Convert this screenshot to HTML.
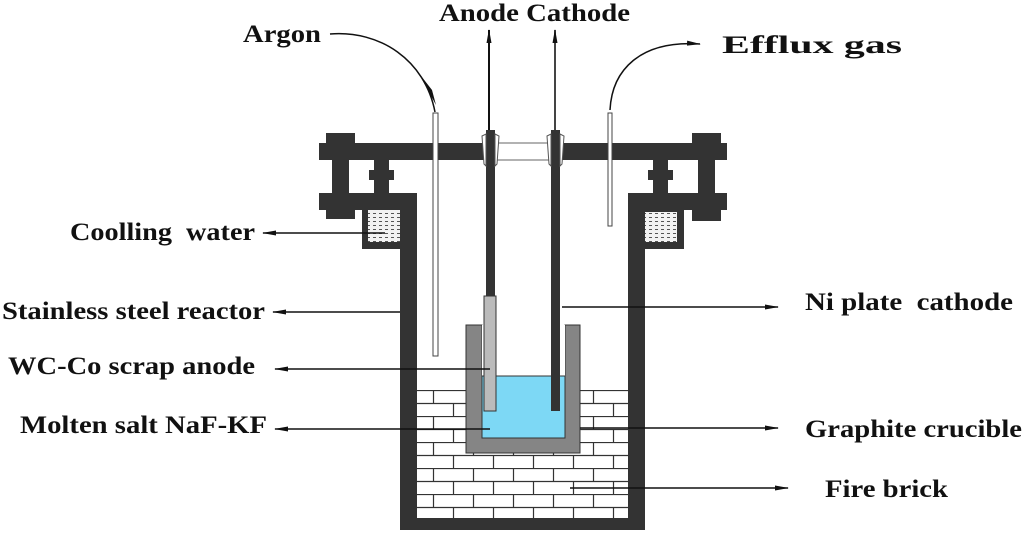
<!DOCTYPE html>
<html><head><meta charset="utf-8"><style>
html,body{margin:0;padding:0;background:#fff;}
svg{display:block;}
text{font-family:"Liberation Serif",serif;font-weight:bold;font-size:25px;fill:#111;}
</style></head><body>
<svg width="1024" height="533" viewBox="0 0 1024 533" xmlns="http://www.w3.org/2000/svg">
<defs>
<pattern id="brick" x="417" y="390" width="80" height="26" patternUnits="userSpaceOnUse">
<rect width="80" height="26" fill="#fff"/>
<path d="M0 0.5H80M0 13.5H80M16.5 0V13M56.5 0V13M36.5 13V26M76.5 13V26" stroke="#333" stroke-width="1.2"/>
</pattern>
<pattern id="dots" width="6" height="4" patternUnits="userSpaceOnUse">
<rect width="6" height="4" fill="#f2f2f2"/><rect x="1" y="1" width="3" height="1" fill="#555"/>
</pattern>
<marker id="ah" markerWidth="14" markerHeight="8" refX="13" refY="4" orient="auto" markerUnits="userSpaceOnUse">
<path d="M0 1.5L14 4L0 6.5Z" fill="#111"/></marker>
</defs>
<g fill="#333">
<rect x="319" y="143" width="408" height="17"/>
<rect x="326" y="133" width="29" height="12"/>
<rect x="332" y="158" width="17" height="37"/>
<rect x="692" y="133" width="29" height="12"/>
<rect x="698" y="158" width="17" height="37"/>
<rect x="374" y="158" width="15" height="37"/><rect x="369" y="170" width="25" height="10"/>
<rect x="653" y="158" width="15" height="37"/><rect x="648" y="170" width="25" height="10"/>
<rect x="319" y="193" width="98" height="17"/>
<rect x="326" y="208" width="29" height="11"/>
<rect x="628" y="193" width="99" height="17"/>
<rect x="692" y="208" width="29" height="13"/>
<rect x="362" y="208" width="40" height="41"/>
<rect x="643" y="208" width="41" height="41"/>
<rect x="400" y="193" width="17" height="337"/>
<rect x="628" y="193" width="17" height="337"/>
<rect x="400" y="518" width="245" height="12"/>
</g>
<rect x="368" y="210" width="32" height="32" fill="url(#dots)"/>
<rect x="645" y="212" width="32" height="30" fill="url(#dots)"/>
<rect x="417" y="390" width="211" height="128" fill="url(#brick)"/>
<path d="M466 325H482V438H565V325H580V453H466Z" fill="#858585" stroke="#333" stroke-width="1"/>
<rect x="482" y="325" width="83" height="113" fill="#fff"/>
<rect x="482" y="376" width="83" height="62" fill="#7dd8f5" stroke="#333" stroke-width="1"/>
<rect x="495" y="143" width="56" height="17" fill="#fff" stroke="#666" stroke-width="1"/>
<line x1="489" y1="130" x2="489" y2="30" stroke="#111" stroke-width="2" marker-end="url(#ah)"/>
<line x1="555" y1="130" x2="555" y2="30" stroke="#444" stroke-width="2" marker-end="url(#ah)"/>
<rect x="486" y="130" width="9" height="168" fill="#333"/>
<rect x="484" y="296" width="12" height="115" fill="#bbb" stroke="#333" stroke-width="1"/>
<rect x="551" y="130" width="9" height="281" fill="#333"/>
<path d="M482 136L486 134V166L484 164ZM495 134L499 136L497 164L495 166Z" fill="#fff" stroke="#555" stroke-width="1"/>
<path d="M547 136L551 134V166L549 164ZM560 134L564 136L562 164L560 166Z" fill="#fff" stroke="#555" stroke-width="1"/>
<rect x="433" y="113" width="5" height="243" fill="#fff" stroke="#444" stroke-width="1"/>
<rect x="608" y="113" width="4" height="113" fill="#fff" stroke="#444" stroke-width="1"/>
<path d="M330 34C380 30 425 60 435 112" fill="none" stroke="#111" stroke-width="1.5"/>
<path d="M418 72L432 90L436 105Z" fill="#111"/>
<path d="M610 110C612 70 640 40 700 44" fill="none" stroke="#111" stroke-width="1.5" marker-end="url(#ah)"/>
<g stroke="#111" stroke-width="1.5" fill="none" marker-end="url(#ah)">
<line x1="385" y1="233" x2="263" y2="233"/>
<line x1="400" y1="312" x2="273" y2="312"/>
<line x1="490" y1="369" x2="275" y2="369"/>
<line x1="490" y1="429" x2="275" y2="429"/>
<line x1="562" y1="307" x2="778" y2="307"/>
<line x1="580" y1="428" x2="778" y2="428"/>
<line x1="570" y1="488" x2="788" y2="488"/>
</g>
<text x="243" y="42" textLength="78" lengthAdjust="spacingAndGlyphs">Argon</text>
<text x="439" y="21" textLength="191" lengthAdjust="spacingAndGlyphs">Anode Cathode</text>
<text x="722" y="53" textLength="180" lengthAdjust="spacingAndGlyphs">Efflux gas</text>
<text x="70" y="240" textLength="185" lengthAdjust="spacingAndGlyphs" xml:space="preserve">Coolling  water</text>
<text x="2" y="319" textLength="263" lengthAdjust="spacingAndGlyphs">Stainless steel reactor</text>
<text x="8" y="374" textLength="247" lengthAdjust="spacingAndGlyphs">WC-Co scrap anode</text>
<text x="20" y="433" textLength="247" lengthAdjust="spacingAndGlyphs">Molten salt NaF-KF</text>
<text x="805" y="310" textLength="208" lengthAdjust="spacingAndGlyphs" xml:space="preserve">Ni plate  cathode</text>
<text x="805" y="437" textLength="217" lengthAdjust="spacingAndGlyphs">Graphite crucible</text>
<text x="825" y="497" textLength="123" lengthAdjust="spacingAndGlyphs">Fire brick</text>
</svg>
</body></html>
